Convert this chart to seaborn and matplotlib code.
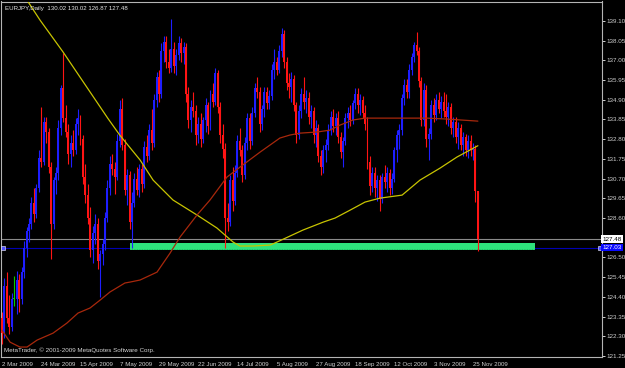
import numpy as np
import matplotlib
matplotlib.use("Agg")
import matplotlib.pyplot as plt
import matplotlib.transforms as mtransforms
import seaborn as sns

sns.set_style("dark")
plt.rcParams['font.family'] = ['Liberation Sans', 'DejaVu Sans']

# ---------------- data (EURJPY, daily) ----------------
opens = [123.3, 122.5, 125.0, 123.3, 122.8, 124.3, 124.3, 125.3, 124.3, 125.7,
         127.0, 127.9, 128.3, 129.4, 128.8, 130.2, 131.8, 131.6, 133.7, 133.2,
         131.3, 128.3, 130.6, 131.0, 133.4, 135.5, 133.9, 133.2, 132.0, 132.6,
         132.2, 133.6, 133.9, 132.8, 130.8, 129.8, 128.6, 126.9, 127.8, 128.3,
         126.3, 126.7, 127.2, 128.6, 130.2, 131.5, 131.2, 130.8, 132.7, 134.4,
         132.5, 130.1, 130.9, 128.4, 129.4, 130.7, 130.1, 131.2, 130.4, 132.4,
         131.9, 133.3, 132.6, 134.9, 136.1, 135.2, 137.5, 138.0, 136.9, 136.6,
         137.6, 136.7, 137.3, 137.9, 137.4, 137.7, 135.2, 133.8, 134.5, 134.3,
         133.0, 133.6, 132.8, 133.8, 134.6, 133.5, 135.2, 134.8, 136.3, 134.5,
         133.0, 132.3, 128.6, 128.4, 130.6, 129.5, 131.0, 132.7, 132.2, 130.9,
         132.6, 133.9, 132.7, 134.2, 135.5, 135.3, 133.6, 134.4, 135.3, 134.7,
         135.1, 136.5, 136.9, 136.5, 137.5, 138.4, 136.9, 135.8, 135.6, 136.0,
         134.6, 133.0, 134.3, 135.2, 134.8, 135.0, 134.0, 134.3, 133.0, 133.4,
         131.9, 131.3, 132.2, 132.5, 133.3, 134.0, 133.5, 133.9, 132.9, 132.1,
         132.7, 133.9, 134.2, 133.8, 134.7, 135.2, 134.6, 134.9, 134.2, 133.6,
         131.6, 130.3, 131.0, 130.2, 130.6, 129.6, 130.8, 130.5, 131.0, 130.2,
         130.7, 132.2, 133.0, 133.3, 135.0, 135.7, 135.3, 136.5, 137.2, 137.8,
         137.5, 135.9, 133.8, 135.4, 132.8, 133.1, 134.6, 134.1, 134.9, 134.4,
         134.8, 134.3, 134.0, 134.5, 133.4, 133.7, 132.9, 133.4, 132.5, 132.9,
         132.2, 132.7, 132.2, 132.3, 130.02]

highs = [123.6, 125.4, 125.7, 124.5, 124.6, 125.5, 125.8, 125.6, 126.0, 127.4,
         128.1, 128.6, 129.7, 130.2, 130.4, 132.2, 134.5, 134.0, 134.0, 133.4,
         131.6, 130.8, 131.3, 133.8, 135.7, 137.4, 134.6, 133.6, 133.0, 133.3,
         133.9, 134.4, 134.1, 133.0, 131.5, 130.4, 129.2, 128.2, 128.8, 128.6,
         126.9, 127.5, 128.9, 130.6, 131.9, 132.0, 131.6, 133.1, 134.9, 135.0,
         132.8, 131.2, 131.1, 130.0, 131.0, 131.3, 131.5, 131.5, 132.7, 133.0,
         133.6, 134.4, 135.2, 136.4, 136.5, 137.9, 138.3, 138.3, 137.6, 139.2,
         138.0, 137.6, 138.3, 138.2, 138.0, 137.9, 135.6, 134.9, 135.3, 134.6,
         134.0, 134.2, 134.0, 135.0, 134.8, 135.4, 135.8, 136.6, 136.5, 134.8,
         133.6, 132.6, 129.4, 130.9, 131.3, 131.4, 133.0, 133.4, 132.5, 132.9,
         134.2, 134.2, 134.5, 135.8, 136.1, 135.6, 134.6, 135.6, 135.6, 135.4,
         136.8, 137.6, 137.2, 137.8, 138.7, 138.6, 137.2, 136.3, 136.4, 136.2,
         134.8, 134.6, 135.5, 136.1, 135.4, 135.3, 134.6, 134.5, 133.8, 133.6,
         132.2, 132.5, 132.8, 133.6, 134.3, 134.4, 134.2, 134.3, 133.2, 132.9,
         134.2, 134.5, 134.6, 134.9, 135.5, 135.5, 135.2, 135.1, 134.6, 134.0,
         131.9, 131.3, 131.3, 130.9, 130.9, 131.0, 131.4, 131.3, 131.2, 131.0,
         132.4, 133.3, 133.6, 135.2, 136.0, 136.0, 136.8, 137.4, 138.0, 138.5,
         137.7, 136.1, 135.8, 135.7, 133.4, 134.9, 135.0, 135.2, 135.3, 135.1,
         135.3, 135.2, 134.8, 134.7, 134.0, 134.0, 133.7, 133.6, 133.2, 133.1,
         133.0, 133.0, 132.6, 132.5, 130.02]

lows = [121.9, 122.2, 123.0, 122.4, 122.6, 123.9, 123.5, 123.6, 124.0, 125.4,
        126.5, 127.3, 128.0, 128.4, 128.6, 130.0, 131.3, 131.4, 132.6, 131.0,
        126.4, 128.0, 129.9, 130.6, 133.0, 133.7, 132.9, 131.5, 131.3, 131.9,
        132.0, 133.0, 132.5, 130.4, 129.4, 128.3, 126.5, 126.2, 127.2, 125.9,
        124.4, 126.1, 126.9, 128.4, 129.8, 130.9, 129.9, 130.6, 132.4, 132.2,
        129.8, 129.3, 128.0, 127.0, 129.2, 129.8, 129.7, 130.0, 130.2, 131.6,
        131.7, 132.2, 132.4, 134.5, 134.8, 135.0, 136.9, 136.6, 136.3, 136.4,
        136.3, 136.2, 137.0, 136.9, 136.8, 134.8, 133.4, 133.2, 134.0, 132.5,
        132.6, 132.4, 132.6, 133.2, 133.1, 133.3, 134.5, 134.6, 134.2, 132.6,
        131.8, 127.0, 127.9, 128.2, 129.0, 129.3, 130.8, 131.9, 130.5, 130.7,
        132.2, 132.3, 132.5, 134.0, 135.0, 133.2, 133.3, 134.0, 134.4, 134.4,
        134.9, 136.0, 136.2, 136.3, 137.2, 136.6, 135.4, 135.0, 134.8, 134.3,
        132.6, 132.8, 133.9, 134.4, 134.2, 133.6, 133.4, 132.6, 132.4, 131.6,
        130.9, 131.0, 131.6, 132.2, 133.0, 133.2, 133.0, 132.6, 131.8, 131.3,
        132.5, 133.4, 133.5, 133.6, 134.4, 134.2, 134.1, 133.9, 133.3, 131.2,
        129.8, 130.0, 129.7, 129.5, 129.0, 129.4, 130.2, 130.0, 129.8, 129.9,
        130.5, 131.6, 132.3, 133.0, 134.6, 135.0, 135.0, 136.2, 136.9, 137.3,
        135.6, 133.5, 133.5, 132.4, 131.7, 132.8, 133.7, 133.8, 134.2, 133.9,
        134.0, 133.6, 133.5, 133.1, 132.9, 132.6, 132.3, 132.2, 131.9, 131.9,
        131.8, 131.9, 131.7, 129.45, 126.87]

closes = [122.5, 125.0, 123.3, 122.8, 124.3, 124.3, 125.3, 124.3, 125.7, 127.0,
          127.9, 128.3, 129.4, 128.8, 130.2, 131.8, 131.6, 133.7, 133.2, 131.3,
          128.3, 130.6, 131.0, 133.4, 135.5, 133.9, 133.2, 132.0, 132.6, 132.2,
          133.6, 133.9, 132.8, 130.8, 129.8, 128.6, 126.9, 127.8, 128.3, 126.3,
          126.7, 127.2, 128.6, 130.2, 131.5, 131.2, 130.8, 132.7, 134.4, 132.5,
          130.1, 130.9, 128.4, 129.4, 130.7, 130.1, 131.2, 130.4, 132.4, 131.9,
          133.3, 132.6, 134.9, 136.1, 135.2, 137.5, 138.0, 136.9, 136.6, 137.6,
          136.7, 137.3, 137.9, 137.4, 137.7, 135.2, 133.8, 134.5, 134.3, 133.0,
          133.6, 132.8, 133.8, 134.6, 133.5, 135.2, 134.8, 136.3, 134.5, 133.0,
          132.3, 128.6, 128.4, 130.6, 129.5, 131.0, 132.7, 132.2, 130.9, 132.6,
          133.9, 132.7, 134.2, 135.5, 135.3, 133.6, 134.4, 135.3, 134.7, 135.1,
          136.5, 136.9, 136.5, 137.5, 138.4, 136.9, 135.8, 135.6, 136.0, 134.6,
          133.0, 134.3, 135.2, 134.8, 135.0, 134.0, 134.3, 133.0, 133.4, 131.9,
          131.3, 132.2, 132.5, 133.3, 134.0, 133.5, 133.9, 132.9, 132.1, 132.7,
          133.9, 134.2, 133.8, 134.7, 135.2, 134.6, 134.9, 134.2, 133.6, 131.6,
          130.3, 131.0, 130.2, 130.6, 129.6, 130.8, 130.5, 131.0, 130.2, 130.7,
          132.2, 133.0, 133.3, 135.0, 135.7, 135.3, 136.5, 137.2, 137.8, 137.5,
          135.9, 133.8, 135.4, 132.8, 133.1, 134.6, 134.1, 134.9, 134.4, 134.8,
          134.3, 134.0, 134.5, 133.4, 133.7, 132.9, 133.4, 132.5, 132.9, 132.2,
          132.7, 132.2, 132.3, 130.02, 127.48]

date_label_bars = [0, 16, 32, 48, 64, 80, 96, 112, 128, 144, 160, 176, 192]
date_labels = ["2 Mar 2009", "24 Mar 2009", "15 Apr 2009", "7 May 2009",
               "29 May 2009", "22 Jun 2009", "14 Jul 2009", "5 Aug 2009",
               "27 Aug 2009", "18 Sep 2009", "12 Oct 2009", "3 Nov 2009",
               "25 Nov 2009"]

price_ticks = [139.10, 138.05, 137.00, 135.95, 134.90, 133.85, 132.80, 131.75,
               130.70, 129.65, 128.60, 126.50, 125.45, 124.40, 123.35, 122.30,
               121.25]

# moving averages (bar index, value)
ma_yellow_bars = [0, 10.2, 15.5, 24.9, 43.2, 48.1, 56.3, 61.6, 69.7, 79.5, 87.6,
                  94.2, 97, 102.3, 109.3, 112.1, 122.7, 130.9, 135.8, 141.9, 148,
                  154.1, 163.1, 170.4, 178.6, 185.5, 194]
ma_yellow_vals = [142.2, 140.2, 139.14, 137.44, 133.9, 133.0, 131.69, 130.62,
                  129.56, 128.76, 128.07, 127.32, 127.11, 127.11, 127.16, 127.32,
                  127.96, 128.38, 128.6, 129.02, 129.45, 129.66, 129.82, 130.62,
                  131.26, 131.85, 132.45]

ma_red_bars = [0, 3.3, 7.3, 10.2, 14.3, 20.8, 26.5, 31, 35.9, 40, 44, 50.1, 52.2,
               56.3, 63.2, 68.5, 72.6, 79.5, 84.8, 91.7, 97, 105.2, 113.3, 117.4,
               121.5, 128.4, 133.7, 137.8, 143.1, 148, 159.4, 173.3, 181.4, 194]
ma_red_vals = [122.63, 121.99, 121.73, 121.73, 122.1, 122.47, 123.01, 123.54,
               123.81, 124.23, 124.66, 125.14, 125.19, 125.3, 125.72, 126.73,
               127.59, 128.76, 129.56, 130.78, 131.31, 132.11, 132.86, 133.02,
               133.12, 133.18, 133.28, 133.55, 133.82, 133.92, 133.92, 133.92,
               133.87, 133.76]

title_text = "EURJPY,Daily  130.02 130.02 126.87 127.48"
copyright_text = "MetaTrader, \u00a9 2001-2009 MetaQuotes Software Corp."
bid_price = 127.48
level_price = 127.03
zone_low, zone_high = 126.89, 127.28
zone_from_bar, zone_to_bar = 52.2, 217.3

# ---------------- styling ----------------
BULL = "#1e1eff"
BEAR = "#ff1414"
DOJI = "#00d000"
TXT = "#cfcfcf"

fig = plt.figure(figsize=(6.25, 3.68), dpi=100, facecolor="black")
ax = fig.add_axes([1.5 / 625, 11 / 368, 600.5 / 625, 355.5 / 368])
ax.set_facecolor("black")
ax.grid(False)
ax.set_xlim(-0.2, 244.6)
ax.set_ylim(121.20, 140.13)

o = np.array(opens); h = np.array(highs); l = np.array(lows); c = np.array(closes)
idx = np.arange(len(c))
cols = np.where(c > o, BULL, np.where(c < o, BEAR, DOJI))

# support zone
ax.fill_between([zone_from_bar, zone_to_bar], zone_low, zone_high,
                color="#2ee27c", lw=0, zorder=2)
ax.plot([zone_from_bar, zone_to_bar], [zone_low + 0.06] * 2, color="#18b45a",
        lw=0.6, ls=(0, (1, 1)), zorder=2.1)

# horizontal lines
ax.axhline(level_price, color="#0000b4", lw=0.8, zorder=1)
ax.axhline(bid_price, color="#8a8a8a", lw=0.8, zorder=1)
blend = mtransforms.blended_transform_factory(ax.transAxes, ax.transData)
ax.plot([0.003, 0.996], [level_price] * 2, "s", ms=2.2, mfc="#5050ff",
        mec="white", mew=0.4, transform=blend, zorder=6, clip_on=False)

# candles
ax.vlines(idx, np.minimum(l, np.minimum(o, c)), np.maximum(h, np.maximum(o, c)),
          colors=cols, lw=0.8, zorder=3)
ax.bar(idx, np.maximum(np.abs(c - o), 0.05), bottom=np.minimum(o, c), width=0.8,
       color=cols, linewidth=0, zorder=3)

# moving averages
sns.lineplot(x=ma_yellow_bars, y=ma_yellow_vals, ax=ax, color="#c8c400", lw=0.9,
             zorder=4, estimator=None, sort=False)
sns.lineplot(x=ma_red_bars, y=ma_red_vals, ax=ax, color="#a8280c", lw=0.9,
             zorder=4, estimator=None, sort=False)

# axes, ticks
for s in ax.spines.values():
    s.set_visible(True)
    s.set_color("#b4b4b4")
    s.set_linewidth(0.8)
ax.yaxis.tick_right()
ax.set_yticks(price_ticks)
ax.set_yticklabels([f"{v:.2f}" for v in price_ticks])
ax.tick_params(axis="y", colors=TXT, length=2.2, width=0.7, labelsize=4.5, pad=1.0,
               direction="out")
ax.set_xticks(date_label_bars)
ax.set_xticklabels(date_labels)
ax.tick_params(axis="x", colors=TXT, length=3, width=0.7, labelsize=4.4, pad=0.3,
               direction="out")
for lbl in ax.get_xticklabels():
    lbl.set_horizontalalignment("left")
ax.set_xlabel("")
ax.set_ylabel("")

# price boxes on the right scale
ax.text(1.0012, bid_price, f"{bid_price:.2f}", transform=blend, ha="left",
        va="center", fontsize=4.5, color="black", zorder=10, clip_on=False,
        bbox=dict(boxstyle="square,pad=0.2", fc="white", ec="none"))
ax.text(1.0012, level_price, f"{level_price:.2f}", transform=blend, ha="left",
        va="center", fontsize=4.5, color="white", zorder=10, clip_on=False,
        bbox=dict(boxstyle="square,pad=0.2", fc="#0a0aff", ec="none"))

# texts
ax.text(0.006, 0.988, title_text, transform=ax.transAxes, ha="left", va="top",
        fontsize=4.4, color="#e6e6e6", zorder=10)
ax.text(0.004, 0.012, copyright_text, transform=ax.transAxes, ha="left",
        va="bottom", fontsize=4.5, color="#d6d6d6", zorder=10)

fig.savefig("out.png", dpi=100, facecolor="black")
